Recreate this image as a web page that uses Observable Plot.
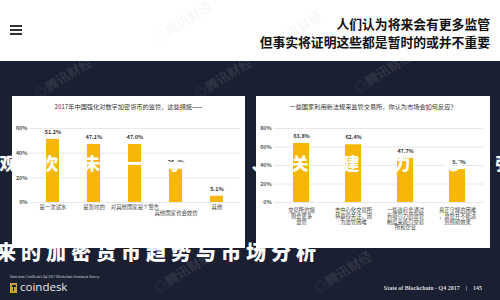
<!DOCTYPE html>
<html><head><meta charset="utf-8">
<script src="https://cdn.jsdelivr.net/npm/d3@7"></script>
<script src="https://cdn.jsdelivr.net/npm/@observablehq/plot@0.6"></script>
<style>
html,body{margin:0;padding:0;width:500px;height:300px;overflow:hidden;background:#1b1f32;font-family:"Noto Sans CJK SC","Noto Sans",sans-serif;}
#stage{position:relative;width:500px;height:300px;overflow:hidden;}
.abs{position:absolute;}
#header{left:0;top:0;width:500px;height:61px;background:#fff;}
.hq{position:absolute;right:10px;font-size:12.8px;font-weight:700;color:#111;line-height:1;white-space:nowrap;}
.bar3{position:absolute;left:10px;width:12px;height:2px;background:#333;}
.panel{background:#fff;}
.ptitle{position:absolute;left:0;width:100%;text-align:center;font-size:6.2px;color:#333;white-space:nowrap;line-height:1;}
.over{position:absolute;color:#fff;font-weight:900;line-height:1;white-space:nowrap;}
.wm{position:absolute;font-size:13px;font-weight:700;white-space:nowrap;transform:rotate(-32deg);}
</style></head>
<body><div id="stage">
<div id="header" class="abs">
  <div class="bar3" style="top:25px"></div>
  <div class="bar3" style="top:29px"></div>
  <div class="bar3" style="top:33px"></div>
  <div class="hq" id="h1" style="top:18px"></div>
  <div class="hq" id="h2" style="top:36px"></div>
</div>
<div id="leftPanel" class="abs panel" style="left:12px;top:96px;width:233px;height:152px;"><div class="ptitle" id="lt" style="top:8px"></div></div>
<div id="rightPanel" class="abs panel" style="left:256px;top:96px;width:234px;height:152px;"><div class="ptitle" id="rt" style="top:8px"></div></div>
<div class="over" id="ov1" style="left:-0.5px;top:154px;font-size:17px;letter-spacing:25px;"></div>
<div class="over" id="ov2" style="left:291.5px;top:154px;font-size:17px;letter-spacing:34px;"></div>
<div class="over" id="ov3" style="left:-4px;top:242px;font-size:20px;letter-spacing:5px;"></div>
<div class="abs" id="src" style="left:10px;top:275px;font-size:3.6px;color:#ddd;font-family:'Liberation Serif',serif;white-space:nowrap;"></div>
<div class="abs" style="left:10px;top:283px;width:7px;height:10px;background:#c9a23a;"></div>
<div class="abs" style="left:11.5px;top:285px;width:4px;height:1.5px;background:#1b1f32;"></div>
<div class="abs" style="left:12.8px;top:285px;width:1.5px;height:6px;background:#1b1f32;"></div>
<div class="abs" id="logo" style="left:20px;top:281px;font-size:11.5px;color:#e8e8e8;font-family:'Open Sans',sans-serif;line-height:1;"></div>
<div class="abs" id="foot" style="right:18px;top:285px;font-size:6px;color:#d8d8d8;font-family:'Liberation Serif',serif;font-weight:700;white-space:pre;line-height:1;"></div>
</div>
<script>
const headerLines = ["人们认为将来会有更多监管", "但事实将证明这些都是暂时的或并不重要"];
const leftTitle = "2017年中国强化对数字加密货币的监管，这些措施——";
const leftCategories = ["是一次试水", "是暂时的", "对其他国家是个警告", "其他国家也会效仿", "其他"];
const leftValues = [51.2, 47.1, 47.0, 26.9, 5.1];
const leftTicks = [0, 20, 40, 60];
const rightTitle = "一些国家利用新法规来监管交易所，你认为市场会如何反应？";
const rightCategories = ["交易所的规\n则会更多\n监管", "去中心化交易所\n将赢得关注，因\n为监管困难", "一些政府会通过\n有吸引力的监管\n制度来吸引交易\n所和企业", "真正守规的困难\n，监管并不能达\n到预期效果"];
const rightValues = [63.8, 62.4, 47.7, 35.6];
const rightTicks = [0, 20, 40, 60, 80];
const overlayLeft = "观次未一于年、";
const overlayRight = "关建力心强";
const overlayBottom = "来的加密货币趋势与市场分析";
const sourceText = "Data from CoinDesk's Q4 2017 Blockchain Sentiment Survey";
const logoText = "coindesk";
const footerText = "State of Blockchain - Q4 2017    |    145";
const watermark = "腾讯财经";

const barColor = "#f6b60a";
const font = "'Noto Sans CJK SC', sans-serif";

document.getElementById("h1").textContent = headerLines[0];
document.getElementById("h2").textContent = headerLines[1];
document.getElementById("lt").textContent = leftTitle;
document.getElementById("rt").textContent = rightTitle;
document.getElementById("ov1").textContent = overlayLeft;
document.getElementById("ov2").textContent = overlayRight;
document.getElementById("ov3").textContent = overlayBottom;
document.getElementById("src").textContent = sourceText;
document.getElementById("logo").textContent = logoText;
document.getElementById("foot").textContent = footerText;

const leftData = leftCategories.map((c, i) => ({c, v: leftValues[i]}));
const rightData = rightCategories.map((c, i) => ({c, v: rightValues[i]}));

const left = Plot.plot({
  width: 233, height: 152, marginTop: 32, marginBottom: 46, marginLeft: 17, marginRight: 5,
  style: {fontSize: "5.4px", fontFamily: font, background: "transparent", color: "#444"},
  x: {domain: leftCategories, paddingInner: 0.69, paddingOuter: 0.345, insetLeft: 1.75, insetRight: 1.75},
  y: {domain: [0, 60]},
  marks: [
    Plot.ruleY(leftTicks, {stroke: "#e2e2e2", strokeWidth: 0.8}),
    Plot.barY(leftData, {x: "c", y: "v", fill: barColor}),
    Plot.text(leftData, {x: "c", y: "v", text: d => d.v.toFixed(1) + "%", dy: -7, fontWeight: "bold", fill: "#333"}),
    Plot.axisY(leftTicks, {tickSize: 0, tickPadding: 2, tickFormat: d => d + "%", fontWeight: "bold", fill: "#555", label: null}),
    Plot.axisX({tickSize: 0, tickPadding: 3, lineAnchor: "top", tickFormat: d => d === leftCategories[3] ? "\n" + d : d, fill: "#444", label: null})
  ]
});
left.style.position = "absolute"; left.style.left = "0"; left.style.top = "0";
document.getElementById("leftPanel").appendChild(left);

const right = Plot.plot({
  width: 234, height: 152, marginTop: 32, marginBottom: 46, marginLeft: 18, marginRight: 6,
  style: {fontSize: "5.3px", fontFamily: font, background: "transparent", color: "#444"},
  x: {domain: rightCategories, paddingInner: 0.695, paddingOuter: 0.3475, insetRight: 0.6},
  y: {domain: [0, 80]},
  marks: [
    Plot.ruleY(rightTicks, {stroke: "#e2e2e2", strokeWidth: 0.8}),
    Plot.barY(rightData, {x: "c", y: "v", fill: barColor}),
    Plot.text(rightData, {x: "c", y: "v", text: d => d.v.toFixed(1) + "%", dy: -7, fontWeight: "bold", fill: "#333"}),
    Plot.axisY(rightTicks, {tickSize: 0, tickPadding: 3, tickFormat: d => d + "%", fontWeight: "bold", fill: "#555", label: null}),
    Plot.axisX({tickSize: 0, tickPadding: 6, lineAnchor: "top", lineHeight: 1.05, fill: "#444", label: null})
  ]
});
right.style.position = "absolute"; right.style.left = "0"; right.style.top = "0";
document.getElementById("rightPanel").appendChild(right);

// faint watermarks
const stage = document.getElementById("stage");
[[30, 68, "rgba(255,255,255,0.10)"], [190, 68, "rgba(255,255,255,0.10)"], [350, 62, "rgba(255,255,255,0.10)"],
 [150, 262, "rgba(255,255,255,0.10)"], [310, 262, "rgba(255,255,255,0.10)"], [150, 12, "rgba(0,0,0,0.05)"], [260, 22, "rgba(0,0,0,0.05)"]]
  .forEach(([x, y, c]) => {
    const w = document.createElement("div");
    w.className = "wm"; w.textContent = "◎" + watermark;
    w.style.left = x + "px"; w.style.top = y + "px"; w.style.color = c;
    stage.appendChild(w);
  });
</script>
</body></html>
